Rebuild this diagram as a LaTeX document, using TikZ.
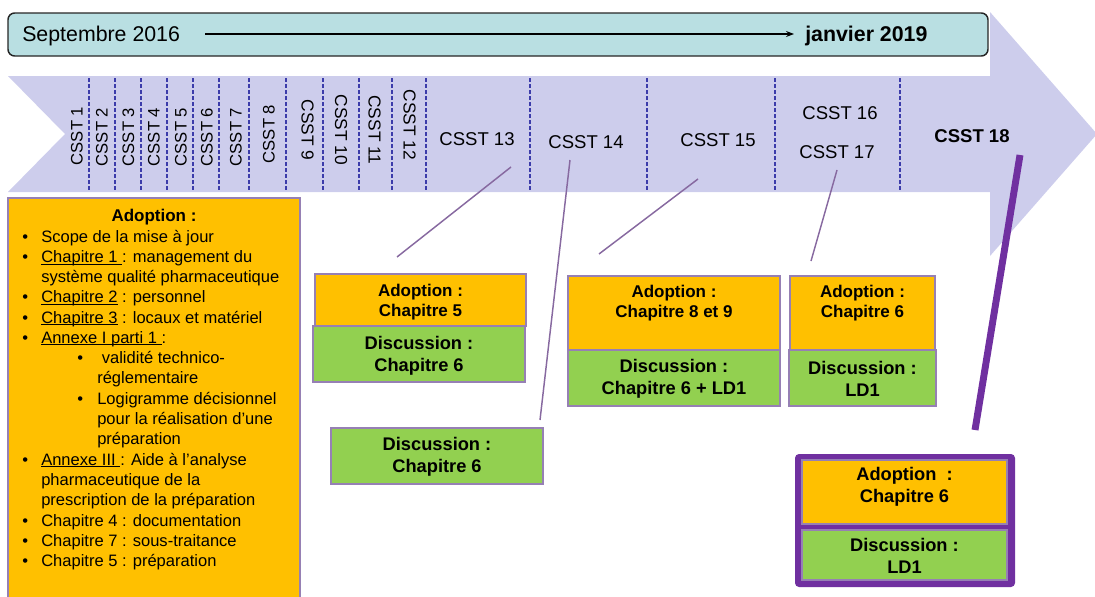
\documentclass[tikz,border=0pt]{standalone}
\usepackage{fontspec}
\setmainfont{Liberation Sans}
\usetikzlibrary{arrows.meta}

\definecolor{bannerfill}{RGB}{185,223,226}
\definecolor{lav}{RGB}{205,205,236}
\definecolor{orng}{RGB}{255,192,0}
\definecolor{grn}{RGB}{146,208,80}
\definecolor{purp}{RGB}{112,48,160}
\definecolor{boxedge}{RGB}{150,128,180}
\definecolor{sepblue}{RGB}{60,60,170}
\definecolor{linkcol}{RGB}{135,105,160}

\newcommand{\blt}{\makebox[14.25pt][l]{\textbullet}}
% underline drawn just below the baseline
\newcommand{\undl}[1]{\setbox0=\hbox{#1}\rlap{\rule[-1.7pt]{\wd0}{0.6pt}}\box0\relax}

\begin{document}
\begin{tikzpicture}[x=0.75pt,y=-0.75pt,
  txt/.style={inner sep=0pt, text=black},
  bigtxt/.style={txt, font=\fontsize{16}{19}\selectfont},
  steplbl/.style={txt, font=\fontsize{13.9}{16}\selectfont},
  vlbl/.style={txt, font=\fontsize{12.5}{14}\selectfont},
  vlblb/.style={txt, font=\fontsize{13}{15}\selectfont},
  listtxt/.style={txt, anchor=base west, font=\fontsize{12.4}{15}\selectfont},
  otxt/.style={txt, align=center, font=\fontsize{12.75}{15}\selectfont\bfseries},
  gtxt/.style={txt, align=center, font=\fontsize{13.7}{16.5}\selectfont\bfseries},
  obox/.style={draw=boxedge, line width=0.8pt, fill=orng, inner sep=0pt},
  gbox/.style={draw=boxedge, line width=0.8pt, fill=grn, inner sep=0pt},
  sepline/.style={draw=sepblue, line width=0.8pt, dash pattern=on 3pt off 1.5pt},
  link/.style={draw=linkcol, line width=1.1pt},
  biglink/.style={draw=purp, line width=5.2pt}
]
\useasboundingbox (0,0) rectangle (1095,596);

% timeline arrow
\fill[lav] (8,76) -- (990,76) -- (990,12) -- (1097,134) -- (990,256)
  -- (990,192) -- (8,192) -- (65,134) -- cycle;

% period banner
\node[draw=black!85, line width=1.1pt, fill=bannerfill, rounded corners=5pt,
  minimum width=0.75*980pt, minimum height=0.75*43pt, inner sep=0pt] (ban) at (498,34.5) {};
\node[bigtxt, anchor=base west] (start) at (22,41.5) {Septembre 2016};
\node[bigtxt, anchor=base west, font=\fontsize{16}{19}\selectfont\bfseries] (end) at (805,41.5) {janvier 2019};
\coordinate (t0) at (205,34);
\coordinate (t1) at (794,34);
\draw[line width=0.9pt, -{Stealth[length=6pt,width=4.5pt]}] (t0) -- (t1);

% separators between sessions
\foreach \x in {89,115,141,167,193,219,249,286,323,359,392,426,530,647,775,900}
  \draw[sepline] (\x,78) -- (\x,190);

% narrow session labels
\node[vlbl, rotate=90] (s1) at (77,136) {CSST 1};
\node[vlbl, rotate=90] (s2) at (102,137) {CSST 2};
\node[vlbl, rotate=90] (s3) at (128.5,137) {CSST 3};
\node[vlbl, rotate=90] (s4) at (154,137) {CSST 4};
\node[vlbl, rotate=90] (s5) at (181,137) {CSST 5};
\node[vlbl, rotate=90] (s6) at (207,137) {CSST 6};
\node[vlbl, rotate=90] (s7) at (236,137) {CSST 7};
\node[vlbl, rotate=90] (s8) at (269,134) {CSST 8};
\node[vlblb, rotate=-90] (s9) at (307.5,130) {CSST 9};
\node[vlblb, rotate=-90] (s10) at (341,130) {CSST 10};
\node[vlblb, rotate=-90] (s11) at (374.5,130) {CSST 11};
\node[vlblb, rotate=-90] (s12) at (409.5,125) {CSST 12};

% wide session labels
\node[steplbl, anchor=base] (s13) at (477,145.6) {CSST 13};
\node[steplbl, anchor=base] (s14) at (586,148.6) {CSST 14};
\node[steplbl, anchor=base] (s15) at (718,146.6) {CSST 15};
\node[steplbl, anchor=base] (s16) at (840,119.6) {CSST 16};
\node[steplbl, anchor=base] (s17) at (837,158.6) {CSST 17};
\node[steplbl, anchor=base, font=\fontsize{13.9}{16}\selectfont\bfseries] (s18) at (972,142.6) {CSST 18};

% first session: adopted items
\node[draw=boxedge, line width=0.8pt, fill=orng, inner sep=0pt,
  minimum width=0.75*292pt, minimum height=0.75*402pt] (first) at (154,399) {};
\node[txt, anchor=base, font=\fontsize{12.75}{15}\selectfont\bfseries] (fh) at (154,221.5) {Adoption :};
\node[listtxt] (L1) at (22,242) {\blt Scope de la mise à jour};
\node[listtxt] (L2) at (22,262.5) {\blt\undl{Chapitre 1\ }: management du};
\node[listtxt] (L3) at (41,282.5) {système qualité pharmaceutique};
\node[listtxt] (L4) at (22,302.5) {\blt\undl{Chapitre 2} : personnel};
\node[listtxt] (L5) at (22,323) {\blt\undl{Chapitre 3} : locaux et matériel};
\node[listtxt] (L6) at (22,343) {\blt\undl{Annexe I parti 1\ }:};
\node[listtxt] (L7) at (77,363.5) {\makebox[15pt][l]{\textbullet}\ validité technico-};
\node[listtxt] (L8) at (97,383.5) {réglementaire};
\node[listtxt] (L9) at (77,404) {\makebox[15pt][l]{\textbullet}Logigramme décisionnel};
\node[listtxt] (L10) at (97,424.5) {pour la réalisation d’une};
\node[listtxt] (L11) at (97,444.5) {préparation};
\node[listtxt] (L12) at (22,465) {\blt\undl{Annexe III\ }: Aide à l’analyse};
\node[listtxt] (L13) at (41,485.5) {pharmaceutique de la};
\node[listtxt] (L14) at (41,505.5) {prescription de la préparation};
\node[listtxt] (L15) at (22,526.5) {\blt Chapitre 4 : documentation};
\node[listtxt] (L16) at (22,546.5) {\blt Chapitre 7 : sous-traitance};
\node[listtxt] (L17) at (22,566.5) {\blt Chapitre 5 : préparation};

% CSST 13
\node[obox, minimum width=0.75*211pt, minimum height=0.75*52pt] (a13) at (420.5,300) {};
\node[gbox, minimum width=0.75*212pt, minimum height=0.75*56pt] (d13) at (419,354) {};
\node[otxt] (a13t) at (420.5,302) {Adoption :\\Chapitre 5};
\node[gtxt] (d13t) at (419,356) {Discussion :\\Chapitre 6};

% CSST 14
\node[gbox, minimum width=0.75*212pt, minimum height=0.75*56pt] (d14) at (437,456) {};
\node[gtxt] (d14t) at (437,457) {Discussion :\\Chapitre 6};

% CSST 15
\node[obox, minimum width=0.75*212pt, minimum height=0.75*74pt] (a15) at (674,313) {};
\node[gbox, minimum width=0.75*212pt, minimum height=0.75*56pt] (d15) at (674,378) {};
\node[otxt] (a15t) at (674,303) {Adoption :\\Chapitre 8 et 9};
\node[gtxt] (d15t) at (674,379) {Discussion :\\Chapitre 6 + LD1};

% CSST 16 / 17
\node[obox, minimum width=0.75*145pt, minimum height=0.75*74pt] (a17) at (862.5,313) {};
\node[gbox, minimum width=0.75*147pt, minimum height=0.75*56pt] (d17) at (862.5,378) {};
\node[otxt] (a17t) at (862.5,303) {Adoption :\\Chapitre 6};
\node[gtxt] (d17t) at (862.5,379) {Discussion :\\LD1};

% CSST 18
\node[fill=purp, rounded corners=3pt, inner sep=0pt,
  minimum width=0.75*220pt, minimum height=0.75*133pt] (f18) at (905,520.5) {};
\node[obox, minimum width=0.75*205pt, minimum height=0.75*64pt] (a18) at (904.5,492) {};
\node[gbox, minimum width=0.75*205pt, minimum height=0.75*50pt] (d18) at (904.5,555) {};
\node[gtxt] (a18t) at (904.5,487) {Adoption\ \ :\\Chapitre 6};
\node[gtxt] (d18t) at (904.5,556) {Discussion :\\LD1};

% links from sessions to their outcomes
\coordinate (k13a) at (511,167); \coordinate (k13b) at (397,257);
\coordinate (k14a) at (570,160); \coordinate (k14b) at (540,420);
\coordinate (k15a) at (698,179); \coordinate (k15b) at (599,254);
\coordinate (k17a) at (837,170); \coordinate (k17b) at (811,261);
\coordinate (k18a) at (1020,155); \coordinate (k18b) at (975,430);
\draw[link] (k13a) -- (k13b);
\draw[link] (k14a) -- (k14b);
\draw[link] (k15a) -- (k15b);
\draw[link] (k17a) -- (k17b);
\draw[biglink] (k18a) -- (k18b);
\end{tikzpicture}
\end{document}
